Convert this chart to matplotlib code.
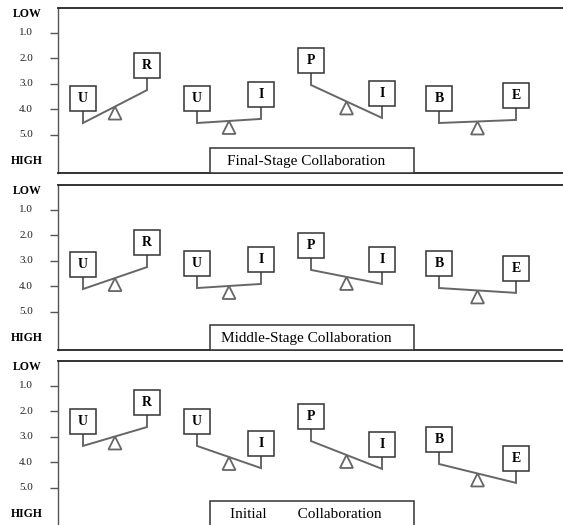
import matplotlib
matplotlib.use("Agg")
import matplotlib.pyplot as plt
from matplotlib.patches import Rectangle, Polygon
from matplotlib import transforms

# ---- data ----
pair_left = ["U", "U", "P", "B"]
pair_right = ["R", "I", "I", "E"]
panel_titles = ["Final-Stage Collaboration", "Middle-Stage Collaboration",
                "Initial        Collaboration"]
final_left = [4.53, 4.53, 3.04, 4.53]
final_right = [3.24, 4.37, 4.33, 4.41]
middle_left = [4.10, 4.06, 3.35, 4.06]
middle_right = [3.24, 3.90, 3.90, 4.25]
initial_left = [3.35, 3.35, 3.16, 4.06]
initial_right = [2.61, 4.22, 4.25, 4.80]
ytick_vals = [1, 2, 3, 4, 5]
ytick_labels = ["1.0", "2.0", "3.0", "4.0", "5.0"]

panels = [(final_left, final_right), (middle_left, middle_right),
          (initial_left, initial_right)]

# ---- layout (pixels) ----
W, H = 563, 525
left_x = [83, 197, 311, 439]
right_x = [147, 261, 382, 516]
panel_tops = [8, 185, 361]
panel_h = 165
px_per_unit = 25.5
y_top_val = 0.02
y_bot_val = y_top_val + panel_h / px_per_unit
box_w = 26
box_h = 25 / px_per_unit
stem = 12 / px_per_unit
tri_w = 13
tri_h = 13 / px_per_unit

serif = ["Liberation Serif", "DejaVu Serif"]
line_col = "#666666"
box_col = "#333333"

fig = plt.figure(figsize=(W / 100, H / 100), dpi=100)

for pi, (lv, rv) in enumerate(panels):
    top = panel_tops[pi]
    ax = fig.add_axes([58 / W, 1 - (top + panel_h) / H, (W - 58 + 2) / W, panel_h / H])
    ax.set_xlim(58, W + 2)
    ax.set_ylim(y_bot_val, y_top_val)
    for s in ["top", "bottom"]:
        ax.spines[s].set_color("#222222")
        ax.spines[s].set_linewidth(1.3)
    ax.spines["left"].set_color("#555555")
    ax.spines["left"].set_linewidth(1.0)
    ax.spines["right"].set_visible(False)
    ax.set_xticks([])
    ax.set_yticks(ytick_vals)
    ax.set_yticklabels([])
    ax.tick_params(axis="y", direction="out", length=5.5, width=1.0, color="#555555")

    tr = transforms.blended_transform_factory(fig.transFigure, ax.transData)
    for v, lab in zip(ytick_vals, ytick_labels):
        ax.text(26 / W, v, lab, transform=tr, ha="center", va="center",
                fontsize=8, family=serif, color="#222222")
    ax.text(27 / W, 0.24, "LOW", transform=tr, ha="center", va="center",
            fontsize=8.5, family=serif, fontweight="bold")
    ax.text(27 / W, 6.03, "HIGH", transform=tr, ha="center", va="center",
            fontsize=8.5, family=serif, fontweight="bold")

    for g in range(4):
        xl, xr = left_x[g], right_x[g]
        yl, yr = lv[g], rv[g]
        # beam
        ax.plot([xl, xl, xr, xr], [yl - stem, yl, yr, yr - stem],
                color=line_col, lw=1.4, solid_joinstyle="miter", zorder=2)
        # fulcrum
        xm, ym = (xl + xr) / 2, (yl + yr) / 2
        ax.add_patch(Polygon([[xm, ym], [xm - tri_w / 2, ym + tri_h], [xm + tri_w / 2, ym + tri_h]],
                             closed=True, facecolor="white", edgecolor=line_col, lw=1.3, zorder=3))
        # boxes
        for x, y, lab in [(xl, yl, pair_left[g]), (xr, yr, pair_right[g])]:
            ax.add_patch(Rectangle((x - box_w / 2, y - stem - box_h), box_w, box_h,
                                   facecolor="white", edgecolor=box_col, lw=1.1, zorder=4))
            ax.text(x, y - stem - box_h / 2, lab, ha="center", va="center",
                    fontsize=10, family=serif, fontweight="bold", zorder=5)

    # panel label box
    lab_top = y_bot_val - 25 / px_per_unit
    ax.add_patch(Rectangle((210, lab_top), 204, y_bot_val - lab_top,
                           facecolor="white", edgecolor=box_col, lw=1.1, zorder=4))
    ax.text(306, (lab_top + y_bot_val) / 2 + 0.03, panel_titles[pi], ha="center", va="center",
            fontsize=11, family=serif, zorder=5)

fig.savefig("out.png", dpi=100)
